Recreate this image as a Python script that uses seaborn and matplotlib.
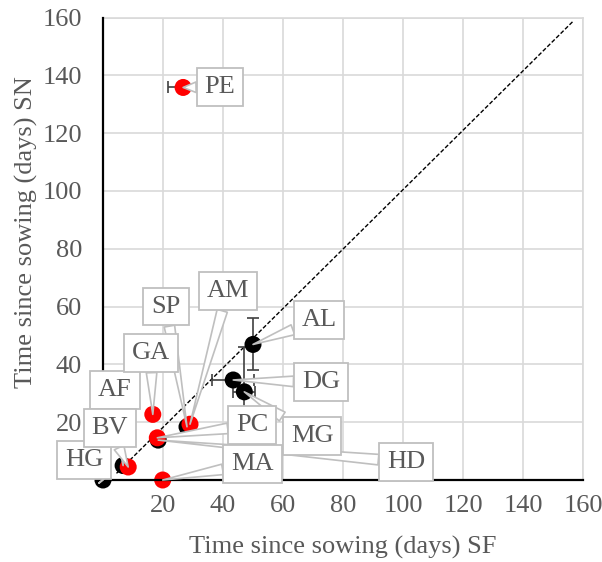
import numpy as np
import pandas as pd
import matplotlib
matplotlib.use("Agg")
import matplotlib.pyplot as plt
import seaborn as sns

# ------------------------------------------------------------------
# Data
# ------------------------------------------------------------------
labels = ["HG", "AF", "HD", "SP", "DG", "MG", "AL",
          "BV", "MA", "PC", "GA", "AM", "PE"]
group = ["black"] * 7 + ["red"] * 6
sf_days = [0.0, 6.7, 18.4, 28.0, 43.4, 47.1, 50.0,
           8.4, 19.9, 18.1, 16.6, 29.0, 26.7]
sn_days = [0.0, 5.0, 13.8, 18.4, 34.6, 30.5, 46.9,
           4.5, 0.0, 14.6, 22.7, 19.3, 135.8]
sf_err = [0, 0, 0, 0, 7.0, 3.7, 0,
          0, 0, 0, 0, 0, 5.0]
sn_err = [0, 0, 0, 0, 0, 15.5, 9.0,
          0, 0, 0, 0, 0, 0]

# callout box centres (data units)
label_x = [-6.3, 4.0, 101.0, 21.0, 72.7, 69.7, 72.0,
           2.3, 49.8, 49.8, 16.0, 41.6, 39.0]
label_y = [6.9, 31.0, 6.2, 60.0, 33.9, 15.2, 55.3,
           18.0, 5.5, 19.0, 43.9, 65.3, 136.0]

# reference line
ref_x = [4.5, 156.5]
ref_y = [2.3, 158.5]

ticks = [20, 40, 60, 80, 100, 120, 140, 160]

df = pd.DataFrame({"label": labels, "group": group, "SF": sf_days, "SN": sn_days,
                   "xerr": sf_err, "yerr": sn_err})

# ------------------------------------------------------------------
# Plot
# ------------------------------------------------------------------
sns.set_style("white")
plt.rcParams["font.family"] = ["Liberation Serif", "DejaVu Serif"]
TXT = "#595959"
GRID = "#d9d9d9"
FS = 19

fig = plt.figure(figsize=(6.02, 5.62), dpi=100)
ax = fig.add_axes([103 / 602, 1 - 480 / 562, 480 / 602, 462.5 / 562])

ax.plot(ref_x, ref_y, color="black", lw=1, linestyle=(0, (3, 1.5)), zorder=2)

for _, r in df.iterrows():
    if r["xerr"] > 0 or r["yerr"] > 0:
        ax.errorbar(r["SF"], r["SN"],
                    xerr=r["xerr"] if r["xerr"] > 0 else None,
                    yerr=r["yerr"] if r["yerr"] > 0 else None,
                    fmt="none", ecolor="#404040", elinewidth=1.2, capsize=4,
                    capthick=1.2, zorder=3)

sns.scatterplot(data=df, x="SF", y="SN", hue="group",
                palette={"black": "black", "red": "#ff0000"},
                s=150, linewidth=0, legend=False, ax=ax, zorder=4, clip_on=False)

for lab, px, py, tx, ty in zip(labels, sf_days, sn_days, label_x, label_y):
    ax.annotate(lab, xy=(px, py), xytext=(tx, ty), textcoords="data",
                ha="center", va="center", fontsize=FS, color=TXT,
                bbox=dict(boxstyle="square,pad=0.3", fc="white", ec="#bfbfbf", lw=1.3),
                arrowprops=dict(arrowstyle="wedge,tail_width=0.4,shrink_factor=0.5",
                                fc="white", ec="#bfbfbf", lw=1.2,
                                shrinkA=0, shrinkB=0),
                annotation_clip=False, zorder=6)

ax.set_xlim(0, 160)
ax.set_ylim(0, 160)
ax.set_xticks(ticks)
ax.set_yticks(ticks)
ax.grid(True, color=GRID, lw=1.2)
ax.set_axisbelow(True)
for side in ["top", "right"]:
    ax.spines[side].set_color(GRID)
    ax.spines[side].set_linewidth(1.2)
for side in ["left", "bottom"]:
    ax.spines[side].set_color("black")
    ax.spines[side].set_linewidth(1.6)
    ax.spines[side].set_zorder(5)

ax.tick_params(axis="x", length=0, pad=11, labelsize=FS, labelcolor=TXT)
ax.tick_params(axis="y", length=0, pad=15, labelsize=FS, labelcolor=TXT)

ax.set_xlabel("Time since sowing (days) SF", fontsize=FS, color=TXT, va="center")
ax.set_ylabel("Time since sowing (days) SN", fontsize=FS, color=TXT, va="center")
ax.xaxis.set_label_coords(0.5, -0.145)
ax.yaxis.set_label_coords(-0.16, 0.536)

fig.savefig("out.png", dpi=100)
